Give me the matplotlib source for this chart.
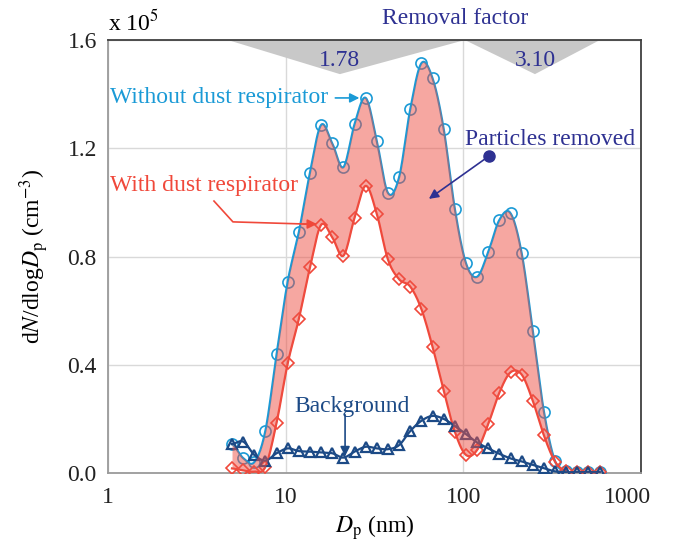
import numpy as np
import matplotlib
matplotlib.use("Agg")
from matplotlib import pyplot as plt
from matplotlib.transforms import ScaledTranslation

# particle diameters (nm), 16 bins per decade
dp = [4.99, 5.77, 6.66, 7.69, 8.89, 10.27, 11.86, 13.71, 15.83, 18.30,
      21.13, 24.42, 28.21, 32.60, 37.65, 43.51, 50.26, 58.07, 67.09, 77.51,
      89.54, 103.4, 119.5, 138.1, 159.5, 184.3, 212.9, 246.0, 284.2, 328.3,
      379.3, 438.2, 506.2, 584.8]

# dN/dlogDp (x 1e5 cm^-3)
without_resp = [0.107, 0.055, 0.040, 0.156, 0.439, 0.707, 0.889, 1.110, 1.286, 1.218,
                1.130, 1.289, 1.386, 1.226, 1.035, 1.093, 1.344, 1.514, 1.459, 1.272,
                0.977, 0.776, 0.725, 0.816, 0.935, 0.960, 0.813, 0.526, 0.227, 0.044,
                0.007, 0.003, 0.003, 0.003]
with_resp = [0.017, 0.010, 0.005, 0.023, 0.186, 0.405, 0.569, 0.760, 0.917, 0.871,
             0.803, 0.943, 1.061, 0.957, 0.789, 0.716, 0.689, 0.606, 0.467, 0.304,
             0.153, 0.067, 0.085, 0.181, 0.297, 0.372, 0.364, 0.267, 0.139, 0.042,
             0.006, 0.004, 0.004, 0.004]
background = [0.107, 0.116, 0.067, 0.046, 0.073, 0.091, 0.081, 0.079, 0.076, 0.073,
              0.057, 0.079, 0.097, 0.091, 0.088, 0.103, 0.155, 0.193, 0.211, 0.200,
              0.174, 0.144, 0.113, 0.091, 0.071, 0.054, 0.043, 0.030, 0.018, 0.006,
              0.003, 0.003, 0.003, 0.003]

# removal factor ranges (nm) and values
rf_ranges = [(4.73, 20.2, 102.0), (102.0, 253.0, 587.0)]
rf_values = ["1.78", "3.10"]

plt.rcParams['font.family'] = ['Liberation Serif', 'DejaVu Serif']
plt.rcParams['mathtext.fontset'] = 'stix'

c_blue = '#1a9ad6'
c_red = '#f0483a'
c_navy = '#1c4a86'
c_purple = '#2e3192'
fs = 17


def smooth(xs, ys, n=20):
    # catmull-rom through the points, in log-x space (like excel smoothed lines)
    u = np.log10(np.asarray(xs, float))
    y = np.asarray(ys, float)
    U = np.concatenate([[2 * u[0] - u[1]], u, [2 * u[-1] - u[-2]]])
    Y = np.concatenate([[y[0]], y, [y[-1]]])
    t = np.linspace(0, 1, n, endpoint=False)
    out_u, out_y = [], []
    for i in range(1, len(U) - 2):
        for P, out in ((U, out_u), (Y, out_y)):
            p0, p1, p2, p3 = P[i - 1], P[i], P[i + 1], P[i + 2]
            out.extend(0.5 * (2 * p1 + (-p0 + p2) * t + (2 * p0 - 5 * p1 + 4 * p2 - p3) * t ** 2
                              + (-p0 + 3 * p1 - 3 * p2 + p3) * t ** 3))
    out_u.append(u[-1])
    out_y.append(y[-1])
    return 10 ** np.array(out_u), np.array(out_y)


fig = plt.figure(figsize=(6.86, 5.49), dpi=100)
ax = fig.add_axes([0.1574, 0.1384, 0.777, 0.7887])

xb, yb = smooth(dp, without_resp)
xr, yr = smooth(dp, with_resp)
xg, yg = smooth(dp, background)

ax.plot(xb, yb, color=c_blue, lw=1.6, zorder=3)
ax.plot(dp, without_resp, 'o', mfc='none', mec=c_blue, ms=8, mew=1.2, zorder=3)
ax.plot(xr, yr, color=c_red, lw=1.6, zorder=3)
ax.plot(dp, with_resp, 'D', mfc='none', mec=c_red, ms=6.5, mew=1.2, zorder=3)
ax.plot(xg, yg, color=c_navy, lw=1.6, zorder=3)
ax.plot(dp, background, '^', mfc='none', mec=c_navy, ms=7, mew=1.6, zorder=3)

ax.fill_between(xb, yb, yr, color='#ee5045', alpha=0.5, lw=0, zorder=4)

# removal factor triangles
for (x0, xm, x1), lab in zip(rf_ranges, rf_values):
    ax.fill([x0, x1, xm], [1.6, 1.6, 1.474], color='#c8c8c8', lw=0, zorder=2)
    ax.text(xm, 1.525, lab, color=c_purple, fontsize=fs, ha='center', va='center', zorder=5)
ax.text(89.7, 1.68, "Removal factor", color=c_purple, fontsize=fs, ha='center', va='center',
        clip_on=False)

ax.set_xscale('log')
ax.set_xlim(1, 1000)
ax.set_ylim(0, 1.6)
ax.set_xticks([1, 10, 100, 1000])
ax.set_xticklabels(['1', '10', '100', '1000'])
ax.set_yticks([0.0, 0.4, 0.8, 1.2, 1.6])
ax.set_yticklabels(['0.0', '0.4', '0.8', '1.2', '1.6'])
ax.minorticks_off()
ax.tick_params(length=0, labelsize=fs, pad=10, colors='#222222')
ax.tick_params(axis='y', pad=8)
# last x label sits a bit to the left, as in the original
lbl = ax.get_xticklabels()[-1]
lbl.set_transform(lbl.get_transform() + ScaledTranslation(-0.14, 0, fig.dpi_scale_trans))
ax.grid(True, color='#d9d9d9', lw=1)
ax.set_axisbelow(True)
for s in ['left', 'bottom']:
    ax.spines[s].set_color('#9a9a9a')
for s in ['top', 'right']:
    ax.spines[s].set_color('#404040')
for s in ax.spines.values():
    s.set_linewidth(1.3)

ax.set_xlabel(r'$\it{D}_{\rm p}$ (nm)', fontsize=fs, labelpad=4)
ax.set_ylabel(r'd$\it{N}$/dlog$\it{D}_{\rm p}$ (cm$^{-3}$)', fontsize=fs, labelpad=12)
ax.text(0, 1.01, r'x 10$^5$', transform=ax.transAxes, fontsize=fs, ha='left', va='bottom')

# annotations
ax.annotate("Without dust respirator", xy=(26.0, 1.386), xytext=(1.03, 1.386),
            color=c_blue, fontsize=fs, va='center', zorder=6,
            arrowprops=dict(arrowstyle='-|>', color=c_blue, lw=1.2, shrinkA=3, shrinkB=0,
                            mutation_scale=14))
ax.text(1.03, 1.061, "With dust respirator", color=c_red, fontsize=fs, va='center', zorder=6)
ax.plot([3.95, 5.05, 13.0], [1.005, 0.928, 0.920], color=c_red, lw=1.2, zorder=6)
ax.annotate("", xy=(15.0, 0.920), xytext=(12.5, 0.920),
            arrowprops=dict(arrowstyle='-|>', color=c_red, lw=1.2, shrinkA=0, shrinkB=0,
                            mutation_scale=14), zorder=6)
ax.text(307, 1.234, "Particles removed", color=c_purple, fontsize=fs, ha='center', va='center',
        zorder=6)
ax.annotate("", xy=(64.0, 1.013), xytext=(139.4, 1.171),
            arrowprops=dict(arrowstyle='-|>', color=c_purple, lw=1.2, shrinkA=0, shrinkB=0,
                            mutation_scale=14), zorder=6)
ax.plot([139.4], [1.171], 'o', color=c_purple, ms=8, zorder=6)
ax.text(23.6, 0.245, "Background", color=c_navy, fontsize=fs, ha='center', va='center', zorder=6)
ax.annotate("", xy=(21.6, 0.062), xytext=(21.6, 0.215),
            arrowprops=dict(arrowstyle='-|>', color=c_navy, lw=1.2, shrinkA=0, shrinkB=0,
                            mutation_scale=14), zorder=6)

fig.savefig('out.png', dpi=100)
